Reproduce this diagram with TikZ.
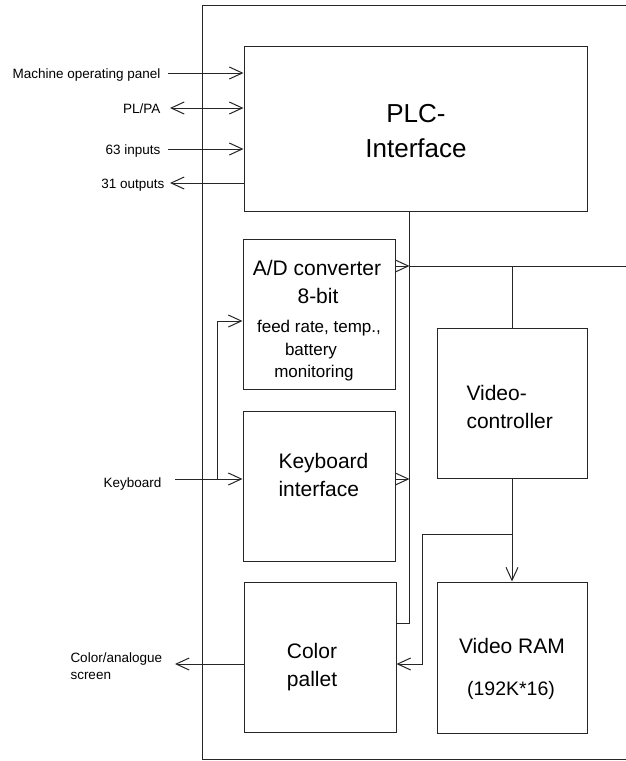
\documentclass[tikz,border=0pt]{standalone}
\usepackage{fontspec}
\setmainfont{Liberation Sans}
\usetikzlibrary{arrows.meta}
\begin{document}
\begin{tikzpicture}[x=1pt,y=-1pt,line width=1pt,
  >={Straight Barb[length=13pt,width=12pt]},
  box/.style={draw=black!85,rectangle,inner sep=0pt},
  lbl/.style={inner sep=0pt,text height=10pt,text depth=0pt,font=\fontsize{13.5}{16}\selectfont},
  big/.style={inner sep=0pt,font=\fontsize{21}{25}\selectfont},
  small/.style={inner sep=0pt,font=\fontsize{17}{20}\selectfont},
  huge/.style={inner sep=0pt,font=\fontsize{26}{30}\selectfont},
  wire/.style={draw=black!85}]
\useasboundingbox[fill=white] (0,0) rectangle (626,761);
% outer frame
\draw[wire] (626,5) -- (202,5) -- (202,759) -- (626,759);
% boxes
\node[box,minimum width=343pt,minimum height=165pt] (plc) at (415.5,128.5) {};
\node[box,minimum width=152pt,minimum height=150pt] (ad) at (319,314) {};
\node[box,minimum width=152pt,minimum height=150pt] (kbd) at (319,486) {};
\node[box,minimum width=152pt,minimum height=150pt] (pal) at (320,657) {};
\node[box,minimum width=150pt,minimum height=150pt] (vc) at (512,403) {};
\node[box,minimum width=150pt,minimum height=151pt] (ram) at (512,657.5) {};
% box texts
\node[huge,anchor=base] (plc1) at (416,122) {PLC-};
\node[huge,anchor=base] (plc2) at (416,157) {Interface};
\node[big,anchor=base] (ad1) at (317,275) {A/D converter};
\node[big,anchor=base] (ad2) at (318,303) {8-bit};
\node[small,anchor=base] (ad3) at (319,332) {feed rate, temp.,};
\node[small,anchor=base] (ad4) at (311,355) {battery};
\node[small,anchor=base] (ad5) at (314,377) {monitoring};
\node[big,anchor=base west] (kbd1) at (278,468) {Keyboard};
\node[big,anchor=base west] (kbd2) at (278,496) {interface};
\node[big,anchor=base west] (vc1) at (466,400) {Video-};
\node[big,anchor=base west] (vc2) at (466,428) {controller};
\node[big,anchor=base] (pal1) at (312,658) {Color};
\node[big,anchor=base] (pal2) at (312,686) {pallet};
\node[big,anchor=base] (ram1) at (512,653) {Video RAM};
\node[inner sep=0pt,font=\fontsize{19.5}{23}\selectfont,anchor=base] (ram2) at (511,695) {(192K*16)};
% outside labels
\node[lbl,anchor=east] (mop) at (161,73) {Machine operating panel};
\node[lbl,anchor=east] (plpa) at (161,108) {PL/PA};
\node[lbl,anchor=east] (inp) at (161,149) {63 inputs};
\node[lbl,anchor=east] (outp) at (165,183) {31 outputs};
\node[lbl,anchor=east] (kb) at (162,482) {Keyboard};
\node[lbl,anchor=base west,text height=,text depth=] (scr1) at (70,662) {Color/analogue};
\node[lbl,anchor=base west,text height=,text depth=] (scr2) at (70,679) {screen};
% coordinates
\coordinate (busR) at (626,266);
\coordinate (vb) at (409.5,623);
\coordinate (ky) at (409.5,479);
\coordinate (kst) at (175,479);
\coordinate (kj) at (217,479);
\coordinate (adin) at (217,321);
\coordinate (br) at (422,534);
\coordinate (cy) at (422,664);
\coordinate (scr) at (175,664);
% PLC connectors
\draw[wire,->] ([xshift=7pt]mop.east) -- (plc.west |- mop.east);
\draw[wire,<->] ([xshift=9pt]plpa.east) -- (plc.west |- plpa.east);
\draw[wire,->] ([xshift=7pt]inp.east) -- (plc.west |- inp.east);
\draw[wire,<-] ([xshift=5pt]outp.east) -- (plc.west |- outp.east);
% internal vertical bus
\draw[wire] (plc.south -| vb) -- (vb) -- (pal.east |- vb);
\draw[wire,->] (ad.east |- busR) -- (vb |- busR);
\draw[wire] (vb |- busR) -- (busR);
\draw[wire,->] (kbd.east |- ky) -- (ky);
% video
\draw[wire] (vc.north) -- (vc.north |- busR);
\draw[wire,->] (vc.south) -- (ram.north);
\draw[wire,->] (vc.south |- br) -- (br) -- (cy) -- (pal.east |- cy);
% keyboard input
\draw[wire,->] (kst) -- (kbd.west |- kst);
\draw[wire,->] (kj) -- (adin) -- (ad.west |- adin);
% screen output
\draw[wire,->] (pal.west |- scr) -- (scr);
\end{tikzpicture}
\end{document}
